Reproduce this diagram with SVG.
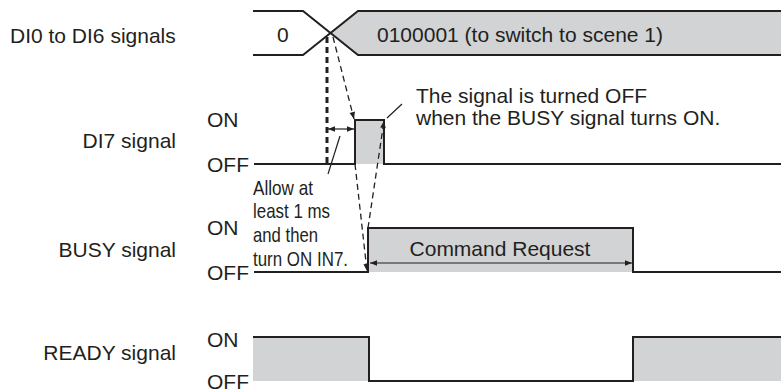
<svg xmlns="http://www.w3.org/2000/svg" width="781" height="392" viewBox="0 0 781 392">
<style>
text{font-family:"Liberation Sans",Arial,sans-serif;font-size:21px;fill:#231f20}
.sig{text-anchor:end}
.ln{fill:none;stroke:#231f20;stroke-width:2}
.fill{fill:#d1d3d4;stroke:none}
.thin{fill:none;stroke:#231f20;stroke-width:1.2}
.dash{fill:none;stroke:#231f20;stroke-width:1.3;stroke-dasharray:6 4}
.dot{fill:none;stroke:#231f20;stroke-width:3;stroke-dasharray:6 4}
</style>
<defs>
<marker id="ah" viewBox="0 0 10 10" refX="10" refY="5" markerWidth="9" markerHeight="7" orient="auto-start-reverse" markerUnits="userSpaceOnUse">
<path d="M0,1 L10,5 L0,9 z" fill="#231f20"/>
</marker>
</defs>
<g id="labels">
<text x="10" y="43">DI0 to DI6 signals</text>
<text class="sig" x="176" y="148">DI7 signal</text>
<text class="sig" x="176" y="257">BUSY signal</text>
<text class="sig" x="176" y="360">READY signal</text>
<text x="207" y="127">ON</text>
<text x="207" y="172">OFF</text>
<text x="207" y="235">ON</text>
<text x="207" y="280">OFF</text>
<text x="207" y="347">ON</text>
<text x="207" y="389">OFF</text>
</g>
<g id="di0-6">
<polygon class="fill" points="331,33 358,11 781,11 781,55 358,55"/>
<polyline class="ln" points="253,11 303,11 358,55 781,55"/>
<polyline class="ln" points="253,55 303,55 358,11 781,11"/>
<text x="277" y="42">0</text>
<text x="377" y="42">0100001 (to switch to scene 1)</text>
</g>
<g id="di7">
<rect class="fill" x="355" y="120" width="29" height="44"/>
<polyline class="ln" points="254,164 355,164 355,120 384,120 384,164 781,164"/>
<text x="416" y="103">The signal is turned OFF</text>
<text x="416" y="125">when the BUSY signal turns ON.</text>
</g>
<g id="busy">
<rect class="fill" x="368" y="228" width="265" height="44"/>
<polyline class="ln" points="254,272 368,272 368,228 633,228 633,272 781,272"/>
<text x="500" y="256" text-anchor="middle">Command Request</text>
</g>
<g id="ready">
<rect class="fill" x="253" y="337" width="116" height="44"/>
<rect class="fill" x="633" y="337" width="148" height="44"/>
<polyline class="ln" points="253,337 369,337 369,381 633,381 633,337 781,337"/>
</g>
<g id="allow">
<text x="253" y="195" textLength="60" lengthAdjust="spacingAndGlyphs">Allow at</text>
<text x="253" y="218" textLength="77" lengthAdjust="spacingAndGlyphs">least 1 ms</text>
<text x="253" y="242" textLength="65" lengthAdjust="spacingAndGlyphs">and then</text>
<text x="253" y="266" textLength="95" lengthAdjust="spacingAndGlyphs">turn ON IN7.</text>
</g>
<g id="connectors">
<line class="dot" x1="327" y1="37" x2="327" y2="164"/>
<line class="dash" x1="333" y1="37" x2="354" y2="119" marker-end="url(#ah)"/>
<line class="dash" x1="368" y1="228" x2="384" y2="121" marker-end="url(#ah)"/>
<line class="dash" x1="355" y1="164" x2="367" y2="271" marker-end="url(#ah)"/>
<line class="thin" x1="328" y1="129" x2="354" y2="129" marker-start="url(#ah)" marker-end="url(#ah)"/>
<line class="thin" x1="328" y1="174" x2="340" y2="136"/>
<line class="thin" x1="387" y1="118" x2="402" y2="104"/>
<line class="thin" x1="370" y1="263" x2="632" y2="263" marker-start="url(#ah)" marker-end="url(#ah)"/>
</g>
</svg>
